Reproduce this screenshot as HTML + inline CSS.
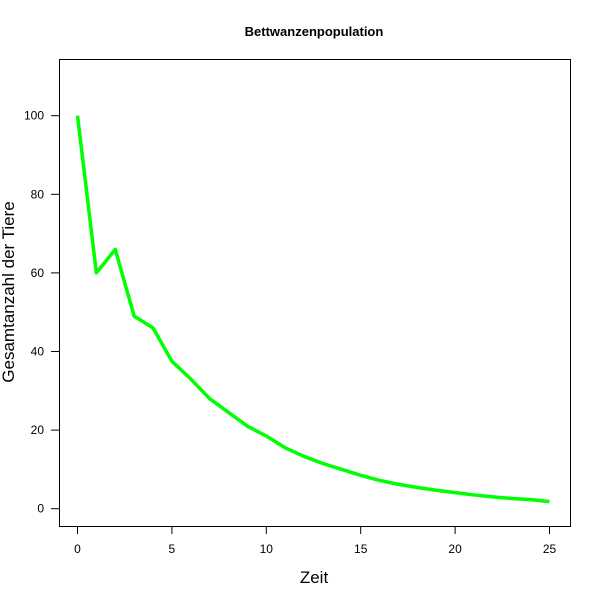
<!DOCTYPE html>
<html><head><meta charset="utf-8"><style>body{margin:0;background:#fff}svg text{font-family:"Liberation Sans",Arial,sans-serif}</style></head>
<body>
<svg id="c" width="600" height="600" xmlns="http://www.w3.org/2000/svg">
<rect width="600" height="600" fill="#fff"/>
<text x="314" y="36" text-anchor="middle" font-size="13" font-weight="bold">Bettwanzenpopulation</text>
<rect x="59.5" y="59.5" width="511" height="467" fill="none" stroke="#000" stroke-width="1"/>
<text x="314" y="583" text-anchor="middle" font-size="17">Zeit</text>
<text transform="translate(14,292) rotate(-90)" text-anchor="middle" font-size="17">Gesamtanzahl der Tiere</text>
<g id="ax"></g>
</svg>
<script>
const times=[0,1,2,3,4,5,6,7,8,9,10,11,12,13,14,15,16,17,18,19,20,21,22,23,24,25];
const population=[100,60,66,49,46,37.5,33,28,24.5,21,18.5,15.5,13.3,11.5,10,8.5,7.2,6.2,5.4,4.7,4.1,3.5,3,2.6,2.3,1.8];
const xTicks=[0,5,10,15,20,25];
const yTicks=[0,20,40,60,80,100];
const NS="http://www.w3.org/2000/svg";
const xs=v=>77.5+v*18.88;
const ys=v=>508.7-v*3.93;
const g=document.getElementById('ax');
function mk(t,a){const e=document.createElementNS(NS,t);for(const k in a)e.setAttribute(k,a[k]);g.appendChild(e);return e;}
xTicks.forEach(v=>{
 const l=mk('line',{x1:xs(v),x2:xs(v),y1:526.5,y2:534,stroke:'#000'});
 
 
 const t=mk('text',{x:xs(v),y:553,'text-anchor':'middle','font-size':'12'});t.textContent=v;
 
 
});
yTicks.forEach(v=>{
 const l=mk('line',{x1:51,x2:59.5,y1:ys(v),y2:ys(v),stroke:'#000'});
 
 
 const t=mk('text',{x:44,y:ys(v)+4,'text-anchor':'end','font-size':'12'});t.textContent=v;
 
 
});
const p=mk('polyline',{points:times.map((t,i)=>xs(t)+','+ys(population[i])).join(' '),fill:'none',stroke:'#00ff00','stroke-width':'3.5','stroke-linejoin':'round'});


</script>
</body></html>
